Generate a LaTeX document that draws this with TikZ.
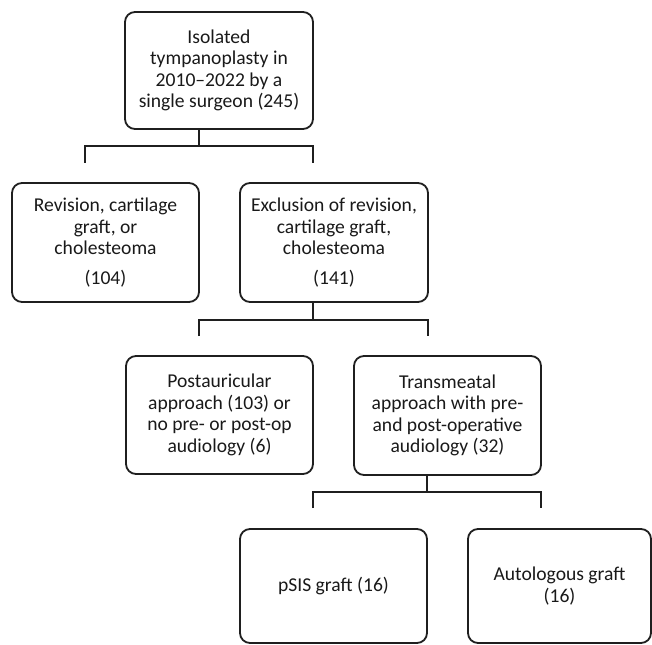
\documentclass[tikz,border=0pt]{standalone}
\usepackage{fontspec}
\setmainfont{Carlito}
\begin{document}
\begin{tikzpicture}[x=1pt,y=-1pt,
  box/.style={draw=black!88, line width=1.8pt, rounded corners=10pt, align=center,
    inner sep=0pt, font=\fontsize{19.6}{21.5}\selectfont, text=black!90},
  conn/.style={draw=black!88, line width=1.8pt}]
\useasboundingbox (0,0) rectangle (652,644);
% boxes
\node[box, minimum width=188pt, minimum height=117pt] (b1) at (219,70.5)
  {Isolated\\tympanoplasty in\\2010–2022 by a\\single surgeon (245)};
\node[box, minimum width=187pt, minimum height=119pt] (b2) at (105.5,242.5)
  {Revision, cartilage\\graft, or\\cholesteoma\\[8pt](104)};
\node[box, minimum width=188pt, minimum height=119pt] (b3) at (334,242.5)
  {Exclusion of revision,\\cartilage graft,\\cholesteoma\\[8pt](141)};
\node[box, minimum width=187pt, minimum height=118pt] (b4) at (219.5,415)
  {Postauricular\\approach (103) or\\no pre- or post-op\\audiology (6)};
\node[box, minimum width=187pt, minimum height=119pt] (b5) at (447.5,415.5)
  {Transmeatal\\approach with pre-\\and post-operative\\audiology (32)};
\node[box, minimum width=187pt, minimum height=114pt] (b6) at (333.5,586)
  {pSIS graft (16)};
\node[box, minimum width=183pt, minimum height=114pt] (b7) at (559.5,586)
  {Autologous graft\\(16)};
% fork 1
\coordinate (f1) at (199,146);
\coordinate (f1l) at (85,163);
\coordinate (f1r) at (313,163);
\draw[conn] (b1.south -| f1) -- (f1);
\draw[conn] (f1l) |- (f1) -| (f1r);
% fork 2
\coordinate (f2) at (313,320);
\coordinate (f2l) at (199,336);
\coordinate (f2r) at (428,336);
\draw[conn] (b3.south -| f2) -- (f2);
\draw[conn] (f2l) |- (f2) -| (f2r);
% fork 3
\coordinate (f3) at (427,492);
\coordinate (f3l) at (313,508);
\coordinate (f3r) at (541,508);
\draw[conn] (b5.south -| f3) -- (f3);
\draw[conn] (f3l) |- (f3) -| (f3r);
\end{tikzpicture}
\end{document}
